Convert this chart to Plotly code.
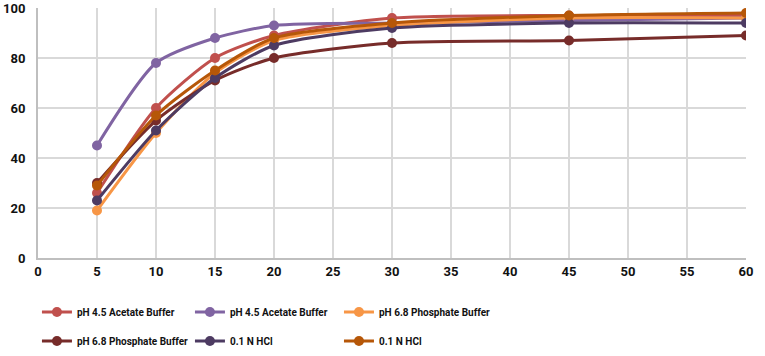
import plotly.graph_objects as go

time_min = [5, 10, 15, 20, 30, 45, 60]

names = ["pH 4.5 Acetate Buffer", "pH 4.5 Acetate Buffer", "pH 6.8 Phosphate Buffer",
         "pH 6.8 Phosphate Buffer", "0.1 N HCl", "0.1 N HCl"]
colors = ["#C0504D", "#8064A2", "#F79646", "#772C2A", "#4D3B62", "#B65708"]

s1 = [26, 60, 80, 89, 96, 97, 97]
s2 = [45, 78, 88, 93, 94, 95, 96]
s3 = [19, 50, 74, 87, 93, 96, 96]
s4 = [30, 55, 71, 80, 86, 87, 89]
s5 = [23, 51, 72, 85, 92, 94, 94]
s6 = [29, 57, 75, 88, 94, 97, 98]
series = [s1, s2, s3, s4, s5, s6]

legend_ids = ["legend", "legend2", "legend3", "legend4", "legend5", "legend6"]

fig = go.Figure()
for n, c, s, lid in zip(names, colors, series, legend_ids):
    fig.add_trace(go.Scatter(
        x=time_min, y=s, name=n, mode="lines+markers",
        line=dict(color=c, width=3, shape="spline", smoothing=0.7),
        marker=dict(color=c, size=10),
        legend=lid, showlegend=True))

tickfont = dict(family="Roboto, Arial", size=13, color="#111111", weight="bold")
axis_common = dict(showgrid=True, gridcolor="#D9D9D9", gridwidth=2, zeroline=False,
                   showline=True, linecolor="#BFBFBF", linewidth=2, ticks="",
                   tickfont=tickfont)

leg = dict(orientation="h", xref="container", yref="container", xanchor="left", yanchor="middle",
           itemwidth=30,
           font=dict(family="Roboto, Arial", size=10, color="#111111", weight="bold"),
           bgcolor="rgba(0,0,0,0)")

col_x = [0.0483, 0.2483, 0.4431]
row_y = [0.1236, 0.0421]
legends = {}
for k, lid in enumerate(legend_ids):
    legends[lid] = dict(x=col_x[k % 3], y=row_y[k // 3], **leg)

fig.update_layout(
    width=765, height=356,
    showlegend=True,
    margin=dict(l=38, r=19, t=8, b=98),
    paper_bgcolor="white", plot_bgcolor="white",
    font=dict(family="Roboto, Arial", size=13, color="#111111"),
    xaxis=dict(range=[0, 60], dtick=5, tick0=0, automargin=False, **axis_common),
    yaxis=dict(range=[0, 100], dtick=20, tick0=0, ticklabelstandoff=8, automargin=False, **axis_common),
    **legends,
)

fig.write_html("out.html", config={"displayModeBar": False},
               post_script="document.body.style.margin='0';")
